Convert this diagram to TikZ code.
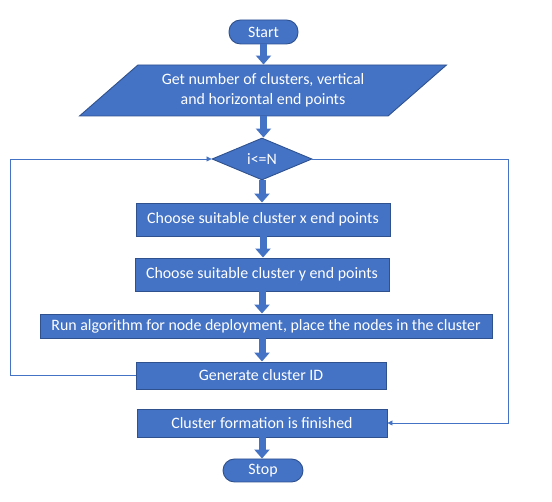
\documentclass[tikz,border=0pt]{standalone}
\usepackage{fontspec}
\setmainfont{Carlito}
\usetikzlibrary{shapes.geometric,arrows.meta}
\definecolor{fillblue}{HTML}{4472C4}
\definecolor{edgeblue}{HTML}{2F528F}
\tikzset{
  base/.style={draw=edgeblue, fill=fillblue, line width=0.9pt, text=white, font=\fontsize{15.9}{19.5}\selectfont, inner sep=0pt},
  procbox/.style={base, rectangle},
  termbox/.style={base, rectangle, rounded corners=11.5pt},
  iobox/.style={base, trapezium, trapezium left angle=35, trapezium right angle=145, trapezium stretches=true, align=center},
  decbox/.style={base, diamond},
  blockarrow/.style={draw=fillblue, line width=7pt, -{Triangle[width=15pt,length=9pt]}},
  loopline/.style={draw=fillblue, line width=0.8pt, -{Triangle[width=5pt,length=5pt]}}
}
\begin{document}
\begin{tikzpicture}[x=1pt,y=1pt]
\useasboundingbox (0,0) rectangle (552,502);
\node[termbox, minimum width=69pt, minimum height=24pt] (start) at (263.5,470) {Start};
\node[iobox, minimum width=368pt, minimum height=51pt] (inp) at (263,411.5) {Get number of clusters, vertical\\and horizontal end points};
\node[decbox, minimum width=100pt, minimum height=42pt] (dia) at (262,343) {i<=N};
\node[procbox, minimum width=254pt, minimum height=33pt] (b1) at (263,282.5) {Choose suitable cluster x end points};
\node[procbox, minimum width=254pt, minimum height=33pt] (b2) at (262,227.5) {Choose suitable cluster y end points};
\node[procbox, minimum width=452pt, minimum height=24pt] (b3) at (266,176) {Run algorithm for node deployment, place the nodes in the cluster};
\node[procbox, minimum width=250pt, minimum height=27pt] (b4) at (261,126.5) {Generate cluster ID};
\node[procbox, minimum width=250pt, minimum height=28pt] (b5) at (262,79) {Cluster formation is finished};
\node[termbox, minimum width=80pt, minimum height=23pt] (stop) at (263,31.5) {Stop};
\coordinate (L) at (10,343);
\coordinate (R) at (508,79);
\draw[blockarrow] (start.south) -- (start.south |- inp.north);
\draw[blockarrow] (inp.south -| start.south) -- (start.south |- dia.north);
\draw[blockarrow] (dia.south) -- (dia.south |- b1.north);
\draw[blockarrow] (b1.south) -- (b1.south |- b2.north);
\draw[blockarrow] (b2.south) -- (b2.south |- b3.north);
\draw[blockarrow] (b3.south -| b2.south) -- (b2.south |- b4.north);
\draw[blockarrow] (b5.south) -- (b5.south |- stop.north);
\draw[loopline] (b4.west) -| (L) -- (dia.west);
\draw[loopline] (dia.east) -| (R) -- (b5.east);
\end{tikzpicture}
\end{document}
